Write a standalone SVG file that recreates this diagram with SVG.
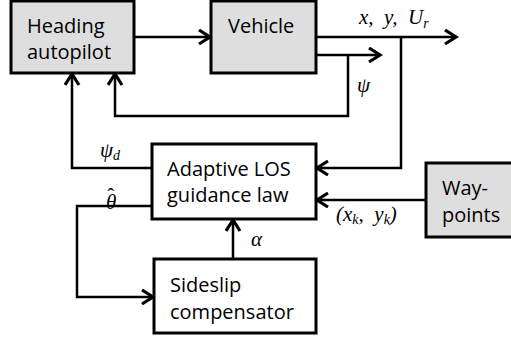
<svg xmlns="http://www.w3.org/2000/svg" width="511" height="338" viewBox="0 0 511 338">
<style>
.box{stroke:#000;stroke-width:3}
.gray{fill:#dedede}
.white{fill:#fff}
.lbl{font-family:"Open Sans","Liberation Sans",sans-serif;font-size:20px;fill:#000}
.math{font-family:"Liberation Serif","DejaVu Serif",serif;font-style:italic;font-size:21px;fill:#000}
.sub{font-size:14px}
.ln{fill:none;stroke:#000;stroke-width:2.5}
</style>
<defs>
<marker id="ah" markerUnits="userSpaceOnUse" markerWidth="20" markerHeight="20" refX="14" refY="8" orient="auto">
<path d="M3,1 L14,8 L3,15" fill="none" stroke="#000" stroke-width="3.2"/>
</marker>
</defs>
<rect width="511" height="338" fill="#fff"/>
<g id="connectors">
<path class="ln" d="M134,37 H210" marker-end="url(#ah)"/>
<path class="ln" d="M316,37 H456" marker-end="url(#ah)"/>
<path class="ln" d="M316,55 H380" marker-end="url(#ah)"/>
<path class="ln" d="M348,55 V116 H115 V74" marker-end="url(#ah)"/>
<path class="ln" d="M401,37 V168 H317" marker-end="url(#ah)"/>
<path class="ln" d="M152,168 H72 V74" marker-end="url(#ah)"/>
<path class="ln" d="M426,200 H317" marker-end="url(#ah)"/>
<path class="ln" d="M152,206 H77 V297 H153" marker-end="url(#ah)"/>
<path class="ln" d="M233,259 V220" marker-end="url(#ah)"/>
<text class="math" x="359" y="24" xml:space="preserve">x,  y,  U<tspan class="sub" dy="4">r</tspan></text>
<text class="math" x="357" y="92">ψ</text>
<text class="math" x="100" y="157">ψ<tspan class="sub" dy="3">d</tspan></text>
<text class="math" x="106" y="209">θ<tspan dx="-9" dy="-6" style="font-style:normal">ˆ</tspan></text>
<text class="math" x="251" y="246">α</text>
<text class="math" x="336" y="221" xml:space="preserve">(x<tspan class="sub" dy="3">k</tspan><tspan dy="-3">,  y</tspan><tspan class="sub" dy="3">k</tspan><tspan dy="-3">)</tspan></text>
</g>
<g id="heading">
<rect class="box gray" x="11" y="1" width="123" height="72"/>
<text class="lbl" x="27" y="33">Heading</text>
<text class="lbl" x="27" y="59">autopilot</text>
</g>
<g id="vehicle">
<rect class="box gray" x="211" y="1" width="105" height="72"/>
<text class="lbl" x="228" y="33">Vehicle</text>
</g>
<g id="los">
<rect class="box white" x="152" y="144" width="164" height="75"/>
<text class="lbl" x="167" y="176">Adaptive LOS</text>
<text class="lbl" x="167" y="202">guidance law</text>
</g>
<g id="sideslip">
<rect class="box white" x="154" y="259" width="162" height="74"/>
<text class="lbl" x="170" y="292">Sideslip</text>
<text class="lbl" x="170" y="319">compensator</text>
</g>
<g id="waypoints">
<rect class="box gray" x="426" y="163" width="90" height="74"/>
<text class="lbl" x="442" y="195">Way-</text>
<text class="lbl" x="442" y="222">points</text>
</g>
</svg>
